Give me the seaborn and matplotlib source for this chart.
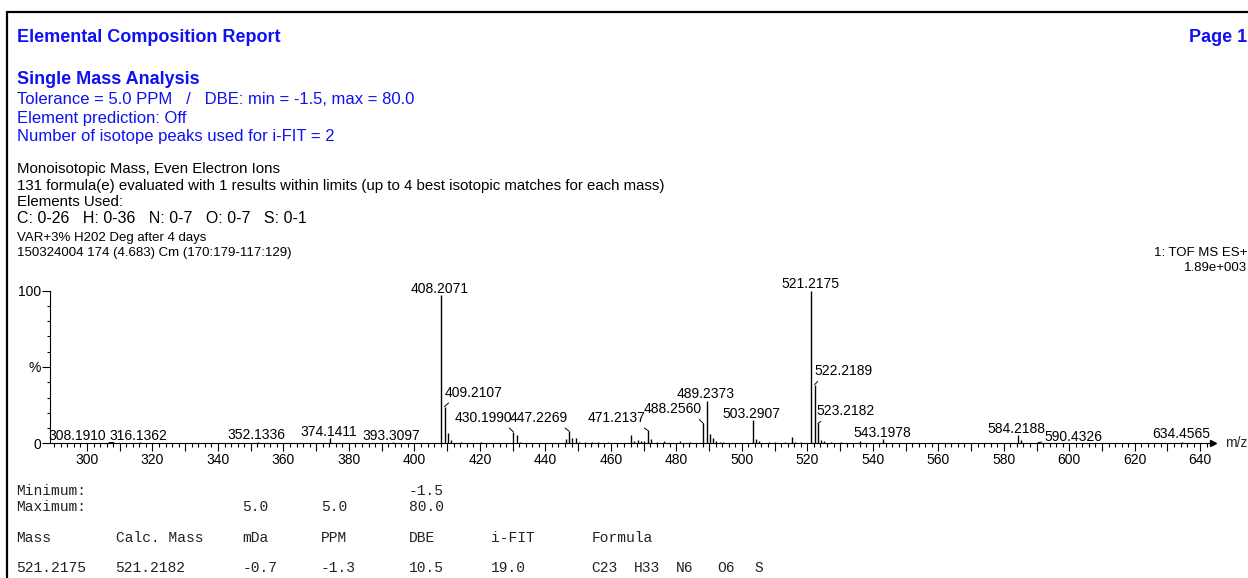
import numpy as np
import pandas as pd
import matplotlib
matplotlib.use("Agg")
import matplotlib.pyplot as plt
import seaborn as sns
from matplotlib.lines import Line2D
from matplotlib.ticker import MultipleLocator

sns.set_theme(style="ticks")
plt.rcParams['font.family'] = ['Liberation Sans', 'DejaVu Sans']

# ---- spectrum data (m/z, % of base peak) ----
peak_mz = [308.1910, 316.1362, 352.1336, 374.1411, 393.3097,
           408.2071, 409.2107, 410.21, 411.21, 414.2, 420.2,
           430.1990, 431.20, 432.2,
           446.2, 447.2269, 448.23, 449.22, 450.2, 452.2, 454.2, 456.2, 459.2,
           466.2, 467.2, 468.2, 469.2, 470.2, 471.2137, 472.2, 474.2, 476.2,
           481.2, 484.2,
           488.2560, 489.2373, 490.24, 491.24, 492.2, 493.2, 494.2,
           503.2907, 504.29, 505.3, 508.2, 510.2, 513.2, 515.2, 516.2, 518.2,
           521.2175, 522.2189, 523.2182, 524.2, 525.2, 527.2, 530.2,
           536.2, 543.1978, 560.3, 568.2,
           584.2188, 585.2, 590.4326, 600.3, 612.3, 634.4565]
peak_int = [0.5, 0.6, 0.8, 3.2, 0.6,
            97.0, 24.0, 7.0, 2.0, 1.0, 0.7,
            7.6, 5.4, 1.0,
            2.6, 8.0, 3.3, 3.3, 1.0, 0.8, 0.8, 0.8, 0.7,
            5.4, 1.5, 2.0, 1.6, 1.3, 8.5, 2.5, 1.0, 1.3,
            1.5, 0.8,
            13.0, 28.0, 6.0, 3.5, 1.5, 0.8, 0.7,
            15.5, 3.0, 1.5, 0.8, 0.8, 1.0, 4.0, 0.8, 0.8,
            100.0, 38.5, 13.0, 2.0, 1.5, 0.8, 0.6,
            1.3, 2.6, 0.5, 0.5,
            5.4, 2.0, 0.5, 0.4, 0.4, 0.6]

label_mz = [308.1910, 316.1362, 352.1336, 374.1411, 393.3097,
            408.2071, 409.2107, 430.1990, 447.2269, 471.2137,
            488.2560, 489.2373, 503.2907, 521.2175, 522.2189,
            523.2182, 543.1978, 584.2188, 590.4326, 634.4565]

x_tick_values = list(range(300, 641, 10))

header_lines = ["Elemental Composition Report", "Single Mass Analysis"]
param_lines = ["Tolerance = 5.0 PPM   /   DBE: min = -1.5, max = 80.0",
               "Element prediction: Off",
               "Number of isotope peaks used for i-FIT = 2"]
info_lines = ["Monoisotopic Mass, Even Electron Ions",
              "131 formula(e) evaluated with 1 results within limits (up to 4 best isotopic matches for each mass)",
              "Elements Used:"]
elements_line = "C: 0-26   H: 0-36   N: 0-7   O: 0-7   S: 0-1"
sample_lines = ["VAR+3% H202 Deg after 4 days",
                "150324004 174 (4.683) Cm (170:179-117:129)"]
trace_lines = ["1: TOF MS ES+", "1.89e+003"]

table_min = ["Minimum:", "", "", "", "-1.5"]
table_max = ["Maximum:", "", "5.0", "5.0", "80.0"]
table_head = ["Mass", "Calc. Mass", "mDa", "PPM", "DBE", "i-FIT", "Formula"]
table_row = ["521.2175", "521.2182", "-0.7", "-1.3", "10.5", "19.0"]
formula_parts = ["C23", "H33", "N6", "O6", "S"]

df = pd.DataFrame({"mz": peak_mz, "intensity": peak_int})

# ---- layout helpers (pixels of the 1248x578 page) ----
W, H = 1248, 578
def fx(px):
    return px / W
def fy(py):
    return 1 - py / H

fig = plt.figure(figsize=(W / 100, H / 100), dpi=100)
fig.patch.set_facecolor("white")

# page frame
fig.add_artist(Line2D([fx(7), 1], [fy(12), fy(12)], color="black", lw=1.6))
fig.add_artist(Line2D([fx(7), fx(7)], [fy(12), 0], color="black", lw=1.6))

blue = "#1010f0"
fig.text(fx(17), fy(38), header_lines[0], color=blue, fontsize=13, fontweight="bold", va="center")
fig.text(fx(1247), fy(38), "Page 1", color=blue, fontsize=13, fontweight="bold", va="center", ha="right")
fig.text(fx(17), fy(79), header_lines[1], color=blue, fontsize=13, fontweight="bold", va="center")
for line, y in zip(param_lines, [100, 118, 137]):
    fig.text(fx(17), fy(y), line, color=blue, fontsize=12, va="center")
for line, y in zip(info_lines, [169, 186, 202]):
    fig.text(fx(17), fy(y), line, color="black", fontsize=10.8, va="center")
fig.text(fx(17), fy(219), elements_line, color="black", fontsize=11.5, va="center")
for line, y in zip(sample_lines, [238, 253]):
    fig.text(fx(17), fy(y), line, color="black", fontsize=9.5, va="center")
for line, y in zip(trace_lines, [253, 268]):
    fig.text(fx(1247), fy(y), line, color="black", fontsize=9.5, va="center", ha="right")

# ---- spectrum axes ----
ax = fig.add_axes([fx(50), fy(443.3), (1213 - 50) / W, (443.3 - 290.7) / H])
ax.set_facecolor("none")
ax.vlines(df["mz"], 0, df["intensity"], color="black", lw=1.0, clip_on=False)
ax.set_xlim(288.7, 643.9)
ax.set_ylim(0, 100)
sns.despine(ax=ax)
for s in ["left", "bottom"]:
    ax.spines[s].set_color("black")
    ax.spines[s].set_linewidth(0.8)

ax.set_xticks(x_tick_values)
ax.set_xticklabels([str(v) if v % 20 == 0 else "" for v in x_tick_values])
ax.xaxis.set_minor_locator(MultipleLocator(2))
ax.set_yticks([0, 50, 100])
ax.set_yticklabels(["0", "%", "100"])
ax.yaxis.set_minor_locator(MultipleLocator(10))
ax.tick_params(axis="x", which="major", length=5.8, width=0.8, pad=1, labelsize=10, colors="black")
ax.tick_params(axis="x", which="minor", length=2.9, width=0.8, colors="black")
ax.tick_params(axis="y", which="major", length=5.8, width=0.8, pad=0.5, labelsize=10, colors="black")
ax.tick_params(axis="y", which="minor", length=2.4, width=0.8, colors="black")
ax.grid(False)

# arrow at end of m/z axis and axis title
ax.plot([1.0], [0], marker=">", ms=4, color="black", transform=ax.transAxes, clip_on=False)
ax.annotate("m/z", xy=(1, 0), xycoords="axes fraction", xytext=(12, 0),
            textcoords="offset pixels", ha="left", va="center", fontsize=10)

# peak labels: (ha, dx, dy, leader attach point)
label_layout = [("right", -8, 3, (1, 0)), ("center", -1.5, 2.5, None),
                ("center", -1, 3.5, None), ("center", -1.4, 2.4, None),
                ("center", -1.7, 2.4, None), ("center", -1.3, 2.2, None),
                ("left", 0, 10, (0.13, 0)), ("right", -1.3, 10, (0.89, 0)),
                ("right", -1.3, 9.3, (0.88, 0)), ("right", -2, 8.6, (0.9, 0)),
                ("right", -1.7, 10.1, (0.9, 0)), ("center", -0.9, 2.2, None),
                ("center", -1.6, 1.5, None), ("center", -1.3, 2.4, None),
                ("left", 0, 9.4, (0.11, 0)), ("left", -1.2, 8.4, (0.15, 0)),
                ("center", -0.7, 2.6, None), ("center", -0.8, 1.7, None),
                ("left", 7, 1.8, (0, 0.15)), ("center", -1.2, 4, None)]

for mz, (ha, dx, dy, rel) in zip(label_mz, label_layout):
    h = df.loc[(df["mz"] - mz).abs().idxmin(), "intensity"]
    kw = {}
    if rel is not None:
        kw["arrowprops"] = dict(arrowstyle="-", color="black", lw=0.7,
                                shrinkA=0, shrinkB=0, relpos=rel)
    ax.annotate(f"{mz:.4f}", xy=(mz, h), xytext=(dx, dy), textcoords="offset pixels",
                ha=ha, va="baseline", fontsize=10, color="black",
                annotation_clip=False, **kw)

# ---- result table ----
mono = "Liberation Mono"
col_x = [16, 115.5, 242.5, 321, 408.6, 491, 591.4]
def table_line(values, y):
    for v, x in zip(values, col_x):
        if v:
            fig.text(fx(x), fy(y), v, family=mono, fontsize=10.5, color="#222222", va="center")

table_line(table_min, 491)
table_line(table_max, 507)
table_line(table_head, 538.5)
table_line(table_row, 568)
for part, x in zip(formula_parts, [591.4, 634, 676, 717, 754]):
    fig.text(fx(x), fy(568), part, family=mono, fontsize=10.5, color="#222222", va="center")

fig.savefig("out.png", dpi=100)
